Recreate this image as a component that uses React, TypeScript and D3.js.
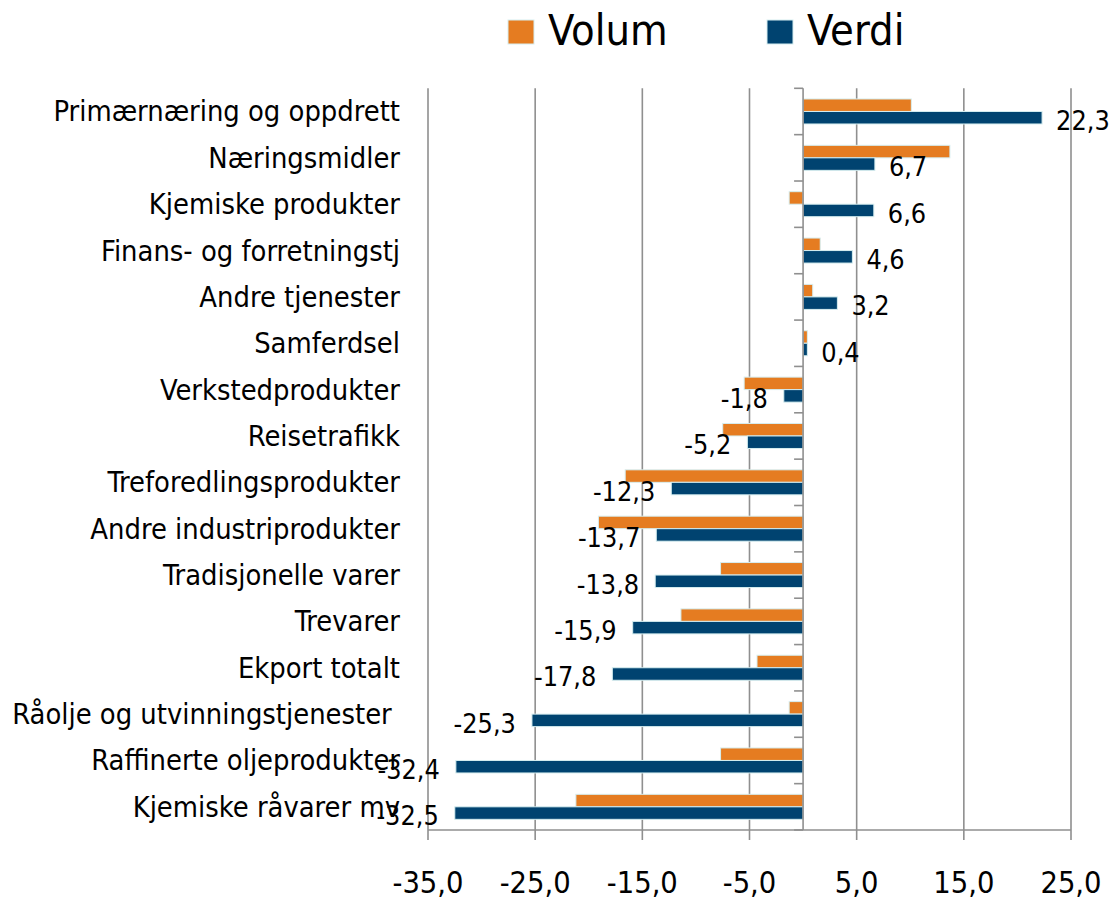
import React from "react";
import * as d3 from "d3";

const categories = [
  "Primærnæring og oppdrett",
  "Næringsmidler",
  "Kjemiske produkter",
  "Finans- og forretningstj",
  "Andre tjenester",
  "Samferdsel",
  "Verkstedprodukter",
  "Reisetrafikk",
  "Treforedlingsprodukter",
  "Andre industriprodukter",
  "Tradisjonelle varer",
  "Trevarer",
  "Ekport totalt",
  "Råolje og utvinningstjenester ",
  "Raffinerte oljeprodukter",
  "Kjemiske råvarer mv",
];

const volum = [10.1, 13.7, -1.3, 1.6, 0.9, 0.4, -5.5, -7.5, -16.6, -19.1, -7.7, -11.4, -4.3, -1.3, -7.7, -21.2];
const verdi = [22.3, 6.7, 6.6, 4.6, 3.2, 0.4, -1.8, -5.2, -12.3, -13.7, -13.8, -15.9, -17.8, -25.3, -32.4, -32.5];

const xTicks = [-35, -25, -15, -5, 5, 15, 25];
const seriesNames = ["Volum", "Verdi"];
const seriesColors = ["#e57c21", "#004370"];

const W = 1113;
const H = 899;
const FONT = "'DejaVu Sans Condensed', 'DejaVu Sans', Verdana, sans-serif";

export default function App() {
  const x = d3.scaleLinear().domain([-35, 25]).range([428, 1071]);
  const y = d3.scaleBand<string>().domain(categories).range([88.3, 830]).padding(0);
  const sub = d3
    .scaleBand<string>()
    .domain(seriesNames)
    .range([0, y.bandwidth()])
    .paddingInner(0)
    .paddingOuter(0.854);
  const fmt = (v: number) => d3.format(".1f")(v).replace(".", ",").replace("\u2212", "-");
  const series = [volum, verdi];
  const x0 = x(0);
  const plotTop = y.range()[0];
  const plotBottom = y.range()[1];
  const gridColor = "#8f8f8f";

  return (
    <svg
      width={W}
      height={H}
      style={{ position: "absolute", left: 0, top: 0, background: "#fff" }}
      fontFamily={FONT}
    >
      <rect x={0} y={0} width={W} height={H} fill="#fff" />
      {/* gridlines */}
      {xTicks.map((t) => (
        <line key={"g" + t} x1={x(t)} x2={x(t)} y1={plotTop} y2={plotBottom} stroke={gridColor} strokeWidth={1.6} />
      ))}
      {/* bars */}
      {series.map((vals, si) =>
        vals.map((v, i) => {
          const yy = (y(categories[i]) as number) + (sub(seriesNames[si]) as number);
          const xa = Math.min(x(v), x0);
          const w = Math.abs(x(v) - x0);
          return (
            <rect
              key={si + "-" + i}
              x={xa}
              y={yy}
              width={w}
              height={sub.bandwidth()}
              fill={seriesColors[si]}
              stroke="#d6eef0"
              strokeWidth={1}
            />
          );
        })
      )}
      {/* zero axis */}
      <line x1={x0} x2={x0} y1={plotTop} y2={plotBottom} stroke={gridColor} strokeWidth={1.6} />
      {d3.range(categories.length + 1).map((k) => {
        const yy = plotTop + k * y.step();
        return <line key={"ct" + k} x1={x0 - 9} x2={x0} y1={yy} y2={yy} stroke={gridColor} strokeWidth={1.6} />;
      })}
      {/* bottom axis */}
      <line x1={x(-35)} x2={x(25)} y1={plotBottom} y2={plotBottom} stroke={gridColor} strokeWidth={1.6} />
      {xTicks.map((t) => (
        <g key={"t" + t}>
          <line x1={x(t)} x2={x(t)} y1={plotBottom} y2={plotBottom + 10} stroke={gridColor} strokeWidth={1.6} />
          <text x={x(t)} y={893} textAnchor="middle" fontSize={30.5} fontStretch="condensed" fill="#000">
            {fmt(t)}
          </text>
        </g>
      ))}
      {/* category labels */}
      {categories.map((c) => (
        <text
          key={"c" + c}
          x={400}
          y={(y(c) as number) + y.bandwidth() / 2 + 10}
          textAnchor="end"
          fontSize={28.8}
          fontStretch="condensed"
          fill="#000"
          style={{ whiteSpace: "pre" }}
        >
          {c}
        </text>
      ))}
      {/* data labels (Verdi) */}
      {verdi.map((v, i) => {
        const cy = (y(categories[i]) as number) + y.bandwidth() / 2;
        const pos = v >= 0;
        return (
          <text
            key={"d" + i}
            x={pos ? x(v) + 14 : x(v) - 16}
            y={cy + 18.5}
            textAnchor={pos ? "start" : "end"}
            fontSize={26.8}
            fontStretch="condensed"
            fill="#000"
          >
            {fmt(v)}
          </text>
        );
      })}
      {/* legend */}
      <rect x={508} y={20} width={26} height={24} fill={seriesColors[0]} stroke="#d6eef0" strokeWidth={1} />
      <text x={548} y={45} fontSize={43} fontStretch="condensed" fill="#000">
        {seriesNames[0]}
      </text>
      <rect x={767} y={20} width={26} height={24} fill={seriesColors[1]} stroke="#d6eef0" strokeWidth={1} />
      <text x={807} y={45} fontSize={43} fontStretch="condensed" fill="#000">
        {seriesNames[1]}
      </text>
    </svg>
  );
}
